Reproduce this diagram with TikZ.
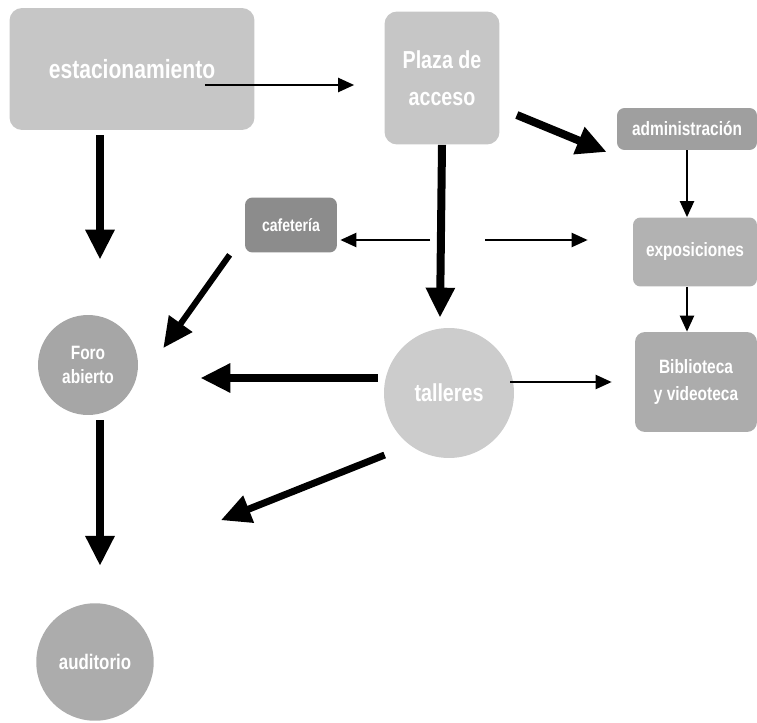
\documentclass[tikz,border=0pt]{standalone}
\usepackage{fontspec}
\newfontfamily\lblfont{Liberation Sans}[FakeStretch=0.8]
\usetikzlibrary{arrows.meta,calc}
\begin{document}
\begin{tikzpicture}[x=0.02cm,y=-0.02cm,line join=round,
  box/.style={fill=#1,rounded corners=2.5mm,text=white,align=center,inner sep=0pt},
  disc/.style={circle,fill=#1,text=white,align=center,inner sep=0pt},
  lbl/.style 2 args={font=\lblfont\bfseries\fontsize{#1}{#2}\selectfont},
  big/.style={line width=1.6mm,-{Triangle[length=6mm,width=5.5mm]}},
  small/.style={line width=0.45mm,-{Triangle[length=3.2mm,width=2.8mm]}}]
\useasboundingbox (0,0) rectangle (757,723);
\node[box=gray!45,lbl={15}{17},minimum width=49mm,minimum height=24.4mm] (est) at (132,69) {estacionamiento};
\node[box=gray!45,lbl={14}{21},minimum width=23mm,minimum height=26.6mm] (plaza) at (442,78) {Plaza de\\ acceso};
\node[box=gray!75,lbl={11}{13},rounded corners=1.5mm,minimum width=28mm,minimum height=8.4mm] (admin) at (687,129) {administración};
\node[box=gray!90,lbl={10}{12},rounded corners=1.5mm,minimum width=18.4mm,minimum height=11mm] (cafe) at (291,225) {cafetería};
\node[box=gray!60,lbl={11}{13},rounded corners=1.5mm,minimum width=24.8mm,minimum height=13.8mm] (expo) at (695,252) {exposiciones};
\node[box=gray!65,lbl={11}{15},rounded corners=2mm,minimum width=24.4mm,minimum height=20mm] (biblio) at (696,382) {Biblioteca\\ y videoteca};
\node[disc=gray!70,lbl={11}{14},minimum size=20mm] (foro) at (88,365) {Foro\\ abierto};
\node[disc=gray!40,lbl={14}{16},minimum size=26mm] (talleres) at (449,393) {talleres};
\node[disc=gray!65,lbl={12}{14},minimum size=23.5mm] (audi) at (95,662) {auditorio};
\coordinate (cruce) at (440,240);
\draw[small] ($(est.east)+(-50,16)$) -- ($(plaza.west)+(-30,7)$);
\draw[big] ($(est.south)+(-32,5)$) -- ($(foro.north)+(12,-55)$);
\draw[big] (plaza.south) -- ($(talleres.north)+(-9,-10)$);
\draw[big] ($(plaza.east)+(17,37)$) -- ($(admin.west)+(-10,23)$);
\draw[small] (admin.south) -- (admin.south |- expo.north);
\draw[small] (expo.south -| admin.south) -- (admin.south |- biblio.north);
\draw[small] ($(cruce)+(-10,0)$) -- ($(cafe.east)+(3,15)$);
\draw[small] ($(cruce)+(45,0)$) -- ($(expo.west)+(-45,-12)$);
\draw[big,line width=1.2mm] ($(cafe.south west)+(-15,2)$) -- ($(foro.east)+(25,-17)$);
\draw[big] ($(talleres.west)+(-6,-15)$) -- ($(foro.east)+(62,13)$);
\draw[small] ($(talleres.east)+(-4,-11)$) -- ($(biblio.west)+(-23,0)$);
\draw[big,line width=1.4mm] ($(talleres.west)+(1,62)$) -- ($(audi.north east)+(84,-100)$);
\draw[big] ($(foro.south)+(12,5)$) -- ($(audi.north)+(5,-37)$);
\end{tikzpicture}
\end{document}
